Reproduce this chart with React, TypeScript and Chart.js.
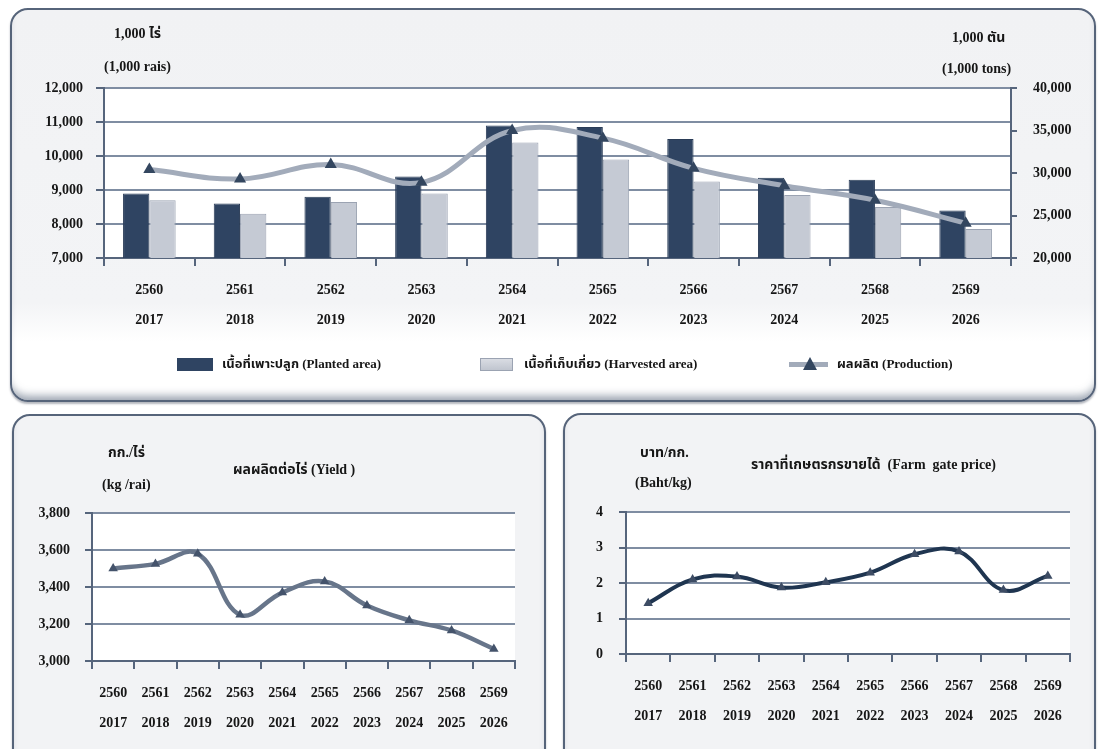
import React, { useEffect, useRef } from "react";
import { Chart, registerables } from "chart.js";

Chart.register(...registerables);

// ---------- data ----------
const yearsBE = ["2560", "2561", "2562", "2563", "2564", "2565", "2566", "2567", "2568", "2569"];
const yearsAD = ["2017", "2018", "2019", "2020", "2021", "2022", "2023", "2024", "2025", "2026"];

const plantedArea = [8900, 8600, 8800, 9400, 10900, 10850, 10500, 9360, 9300, 8400];
const harvestedArea = [8700, 8300, 8650, 8900, 10400, 9900, 9250, 8850, 8500, 7850];
const production = [30400, 29300, 31000, 28900, 35000, 34100, 30550, 28500, 26800, 24100];

const yieldPerRai = [3500, 3525, 3580, 3250, 3370, 3430, 3300, 3220, 3165, 3065];
const farmGatePrice = [1.43, 2.1, 2.18, 1.87, 2.02, 2.29, 2.81, 2.89, 1.8, 2.2];

const areaTicks = [7000, 8000, 9000, 10000, 11000, 12000];
const productionTicks = [20000, 25000, 30000, 35000, 40000];
const yieldTicks = [3000, 3200, 3400, 3600, 3800];
const priceTicks = [0, 1, 2, 3, 4];

// ---------- style ----------
const FONT = "'Liberation Serif', 'Times New Roman', 'Noto Sans Thai', 'Noto Sans', serif";
const TEXT = "#161616";
const AXIS = "#56657c";
const GRID = "#7f8da2";

const labels = yearsBE.map((y, i) => [y, yearsAD[i]]);

const plotBg = {
  id: "plotBg",
  beforeDraw(chart: any) {
    const { ctx, chartArea } = chart;
    ctx.save();
    ctx.fillStyle = "#ffffff";
    ctx.fillRect(chartArea.left, chartArea.top, chartArea.right - chartArea.left, chartArea.bottom - chartArea.top);
    ctx.restore();
  },
};

const tickFont = { family: FONT, size: 14, weight: "bold" as const };
const xTickFont = { family: FONT, size: 14, weight: "bold" as const, lineHeight: "30px" };

function fmt(v: any) {
  return Number(v).toLocaleString("en-US");
}

function xScale(height: number, tl: number) {
  return {
    type: "category",
    offset: true,
    grid: { offset: true, drawOnChartArea: false, drawTicks: true, tickLength: tl, color: AXIS, lineWidth: 2 },
    border: { display: true, color: AXIS, width: 2 },
    ticks: { font: xTickFont, color: TEXT, padding: 9, maxRotation: 0, autoSkip: false },
    afterFit: (s: any) => {
      s.height = height;
    },
  };
}

function yScale(pos: string, width: number, tickVals: number[], tl: number, pad: number, onArea: boolean) {
  return {
    position: pos,
    min: tickVals[0],
    max: tickVals[tickVals.length - 1],
    afterBuildTicks: (s: any) => {
      s.ticks = tickVals.map((v) => ({ value: v }));
    },
    ticks: { font: tickFont, color: TEXT, padding: pad, callback: (v: any) => fmt(v) },
    grid: {
      drawOnChartArea: onArea,
      color: onArea ? GRID : AXIS,
      lineWidth: 2,
      tickLength: tl,
      tickColor: AXIS,
    },
    border: { display: true, color: AXIS, width: 2 },
    afterFit: (s: any) => {
      s.width = width;
    },
  };
}

function ChartCanvas({ config, left, top, width, height }: any) {
  const ref = useRef<HTMLCanvasElement>(null);
  useEffect(() => {
    if (!ref.current) return;
    const chart = new Chart(ref.current, config);
    return () => chart.destroy();
  }, []);
  return (
    <canvas
      ref={ref}
      width={width}
      height={height}
      style={{ position: "absolute", left, top, width, height, zIndex: 1 }}
    />
  );
}

const baseOpts = {
  animation: false,
  responsive: false,
  devicePixelRatio: 1,
  plugins: { legend: { display: false }, tooltip: { enabled: false } },
};

const topConfig: any = {
  type: "bar",
  data: {
    labels,
    datasets: [
      {
        type: "line",
        label: "ผลผลิต (Production)",
        data: production,
        yAxisID: "y1",
        borderColor: "#a2abba",
        borderWidth: 5,
        tension: 0.4,
        fill: false,
        pointStyle: "triangle",
        pointRadius: 7,
        pointBackgroundColor: "#33465f",
        pointBorderColor: "#33465f",
        pointBorderWidth: 0,
        order: 0,
      },
      {
        type: "bar",
        label: "เนื้อที่เพาะปลูก (Planted area)",
        data: plantedArea,
        yAxisID: "y",
        backgroundColor: "#2f4462",
        borderColor: "#2a3c57",
        borderWidth: 1,
        categoryPercentage: 0.58,
        barPercentage: 1,
        order: 1,
      },
      {
        type: "bar",
        label: "เนื้อที่เก็บเกี่ยว (Harvested area)",
        data: harvestedArea,
        yAxisID: "y",
        backgroundColor: "#c5cad4",
        borderColor: "#9ba3b2",
        borderWidth: 1,
        categoryPercentage: 0.58,
        barPercentage: 1,
        order: 1,
      },
    ],
  },
  options: {
    ...baseOpts,
    layout: { padding: { top: 88, left: 0, right: 0, bottom: 0 } },
    scales: {
      x: xScale(142, 8),
      y: yScale("left", 104, areaTicks, 8, 13, true),
      y1: yScale("right", 87, productionTicks, 6, 16, false),
    },
  },
  plugins: [plotBg],
};

const yieldConfig: any = {
  type: "line",
  data: {
    labels,
    datasets: [
      {
        label: "ผลผลิตต่อไร่ (Yield )",
        data: yieldPerRai,
        borderColor: "#67758a",
        borderWidth: 4.5,
        tension: 0.4,
        fill: false,
        pointStyle: "triangle",
        pointRadius: 5.5,
        pointBorderWidth: 0,
        pointBackgroundColor: "#44536b",
        pointBorderColor: "#44536b",
      },
    ],
  },
  options: {
    ...baseOpts,
    layout: { padding: { top: 100, left: 0, right: 35, bottom: 0 } },
    scales: {
      x: xScale(88, 8),
      y: yScale("left", 92, yieldTicks, 7, 15, true),
    },
  },
  plugins: [plotBg],
};

const priceConfig: any = {
  type: "line",
  data: {
    labels,
    datasets: [
      {
        label: "ราคาที่เกษตรกรขายได้ (Farm gate price)",
        data: farmGatePrice,
        borderColor: "#1f3550",
        borderWidth: 4,
        tension: 0.4,
        fill: false,
        pointStyle: "triangle",
        pointRadius: 5.5,
        pointBorderWidth: 0,
        pointBackgroundColor: "#3d4c64",
        pointBorderColor: "#3d4c64",
      },
    ],
  },
  options: {
    ...baseOpts,
    layout: { padding: { top: 99, left: 0, right: 28, bottom: 0 } },
    scales: {
      x: xScale(95, 8),
      y: yScale("left", 76, priceTicks, 7, 16, true),
    },
  },
  plugins: [plotBg],
};

function Txt({ x, y, children, size = 14 }: any) {
  const style: any = {
    position: "absolute",
    left: x,
    top: y - size * 0.6,
    fontFamily: FONT,
    fontWeight: "bold",
    fontSize: size,
    lineHeight: `${Math.round(size * 1.2)}px`,
    color: TEXT,
    whiteSpace: "nowrap",
    zIndex: 2,
  };
  return <div style={style}>{children}</div>;
}

const panelStyle = (left: number, top: number, width: number, height: number): any => ({
  position: "absolute",
  left,
  top,
  width,
  height,
  boxSizing: "border-box",
  border: "2px solid #56647a",
  borderRadius: 18,
  background: "linear-gradient(to bottom, #f1f2f4 0%, #f3f4f6 75%, #ffffff 85%, #ffffff 100%)",
  boxShadow: "inset 0 -9px 8px -5px rgba(70,85,110,0.55), 0 2px 2px rgba(40,50,70,0.35)",
  zIndex: 0,
});

export default function App() {
  return (
    <div
      style={{
        position: "fixed",
        left: 0,
        top: 0,
        width: 1098,
        height: 749,
        overflow: "hidden",
        background: "#ffffff",
      }}
    >
      <div style={panelStyle(10, 8, 1086, 394)} />
      <div style={{ ...panelStyle(12, 414, 534, 380), background: "#f2f3f5" }} />
      <div style={{ ...panelStyle(563, 413, 533, 380), background: "#f2f3f5" }} />

      <ChartCanvas config={topConfig} left={0} top={0} width={1098} height={400} />
      <ChartCanvas config={yieldConfig} left={0} top={413} width={550} height={336} />
      <ChartCanvas config={priceConfig} left={550} top={413} width={548} height={336} />

      {/* top chart unit labels */}
      <Txt x={114} y={33}>1,000 ไร่</Txt>
      <Txt x={104} y={66}>(1,000 rais)</Txt>
      <Txt x={952} y={37}>1,000 ตัน</Txt>
      <Txt x={942} y={68}>(1,000 tons)</Txt>

      {/* legend */}
      <div style={{ position: "absolute", left: 177, top: 358, width: 36, height: 13, background: "#2f4462", zIndex: 2 }} />
      <Txt x={222} y={364} size={13}>เนื้อที่เพาะปลูก (Planted area)</Txt>
      <div
        style={{
          position: "absolute",
          left: 480,
          top: 358,
          width: 33,
          height: 13,
          boxSizing: "border-box",
          border: "1px solid #9ba3b2",
          background: "linear-gradient(to bottom, #d9dce3, #c0c5cf)",
          zIndex: 2,
        }}
      />
      <Txt x={524} y={364} size={13}>เนื้อที่เก็บเกี่ยว (Harvested area)</Txt>
      <div style={{ position: "absolute", left: 789, top: 362, width: 39, height: 5, background: "#a2abba", zIndex: 2 }} />
      <div
        style={{
          position: "absolute",
          left: 803,
          top: 357,
          width: 0,
          height: 0,
          borderLeft: "7px solid transparent",
          borderRight: "7px solid transparent",
          borderBottom: "13px solid #33465f",
          zIndex: 3,
        }}
      />
      <Txt x={837} y={364} size={13}>ผลผลิต (Production)</Txt>

      {/* yield panel labels */}
      <Txt x={108} y={452}>กก./ไร่</Txt>
      <Txt x={102} y={484}>(kg /rai)</Txt>
      <Txt x={233} y={469}>ผลผลิตต่อไร่ (Yield )</Txt>

      {/* price panel labels */}
      <Txt x={640} y={452}>บาท/กก.</Txt>
      <Txt x={635} y={482}>(Baht/kg)</Txt>
      <Txt x={751} y={464}>ราคาที่เกษตรกรขายได้&nbsp; (Farm&nbsp; gate price)</Txt>
    </div>
  );
}
